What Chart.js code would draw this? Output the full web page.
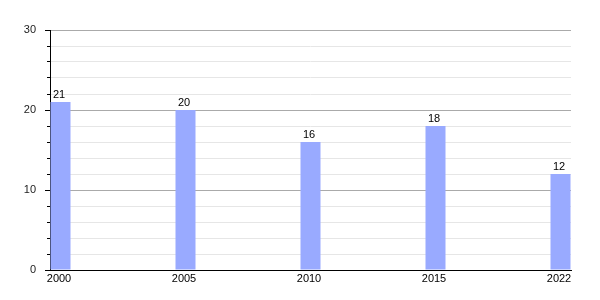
<!DOCTYPE html>
<html><head><meta charset="utf-8">
<script src="https://cdn.jsdelivr.net/npm/chart.js@4/dist/chart.umd.min.js"></script>
<style>html,body{margin:0;padding:0;background:#fff}#wrap{width:600px;height:300px;position:relative}</style>
</head><body><div id="wrap"><canvas id="c" width="600" height="300"></canvas></div>
<script>
const categories = ['2000', '2005', '2010', '2015', '2022'];
const values = [21, 20, 16, 18, 12];
const yTicksMajor = [0, 10, 20, 30];

const FONT = '"Liberation Sans", Arial, Helvetica, sans-serif';

const barLabels = {
  id: 'barLabels',
  afterDatasetsDraw(chart) {
    const ctx = chart.ctx;
    const meta = chart.getDatasetMeta(0);
    ctx.save();
    ctx.font = '11px ' + FONT;
    ctx.fillStyle = '#000';
    ctx.textAlign = 'center';
    ctx.textBaseline = 'alphabetic';
    meta.data.forEach((el, i) => {
      ctx.fillText(String(values[i]), el.x - 1.5, el.y - 4);
    });
    ctx.restore();
  }
};

new Chart(document.getElementById('c'), {
  type: 'bar',
  data: {
    datasets: [{
      data: categories.map((c, i) => ({ x: i, y: values[i] })),
      backgroundColor: '#99aaff',
      borderWidth: 0,
      barPercentage: 0.16,
      categoryPercentage: 1
    }]
  },
  options: {
    responsive: false,
    animation: false,
    layout: { padding: { left: 0, right: 29, top: 30, bottom: 0 } },
    plugins: { legend: { display: false }, tooltip: { enabled: false } },
    scales: {
      x: {
        type: 'linear',
        offset: false,
        min: -0.084,
        max: categories.length - 1 + 0.084,
        grid: { display: false, drawTicks: false, offset: false },
        border: { display: true, color: '#000', width: 1 },
        afterBuildTicks(s) { s.ticks = categories.map((c, i) => ({ value: i })); },
        ticks: {
          callback: (v) => categories[v],
          padding: 2,
          labelOffset: -1.5,
          maxRotation: 0,
          autoSkip: false,
          color: '#000',
          font: { size: 11, family: FONT }
        },
        afterFit(s) { s.height = 30; }
      },
      y: {
        type: 'linear',
        position: 'left',
        weight: 1,
        min: yTicksMajor[0],
        max: yTicksMajor[yTicksMajor.length - 1],
        afterBuildTicks(s) { s.ticks = yTicksMajor.map(v => ({ value: v })); },
        ticks: { padding: 9, color: '#222', font: { size: 11, family: FONT } },
        grid: { color: '#aaaaaa', tickColor: '#000', tickLength: 5 },
        border: { display: true, color: '#000', width: 1 },
        afterFit(s) { s.width = 50; }
      },
      yMinor: {
        type: 'linear',
        position: 'left',
        weight: 0,
        min: yTicksMajor[0],
        max: yTicksMajor[yTicksMajor.length - 1],
        ticks: { stepSize: 2, display: false },
        grid: {
          color: (ctx) => (ctx.tick && ctx.tick.value % 10 === 0) ? 'rgba(0,0,0,0)' : '#e6e6e6',
          tickColor: (ctx) => (ctx.tick && ctx.tick.value % 10 === 0) ? 'rgba(0,0,0,0)' : '#000',
          tickLength: 3
        },
        border: { display: false },
        afterFit(s) { s.width = 0; }
      }
    }
  },
  plugins: [barLabels]
});
</script>
</body></html>
